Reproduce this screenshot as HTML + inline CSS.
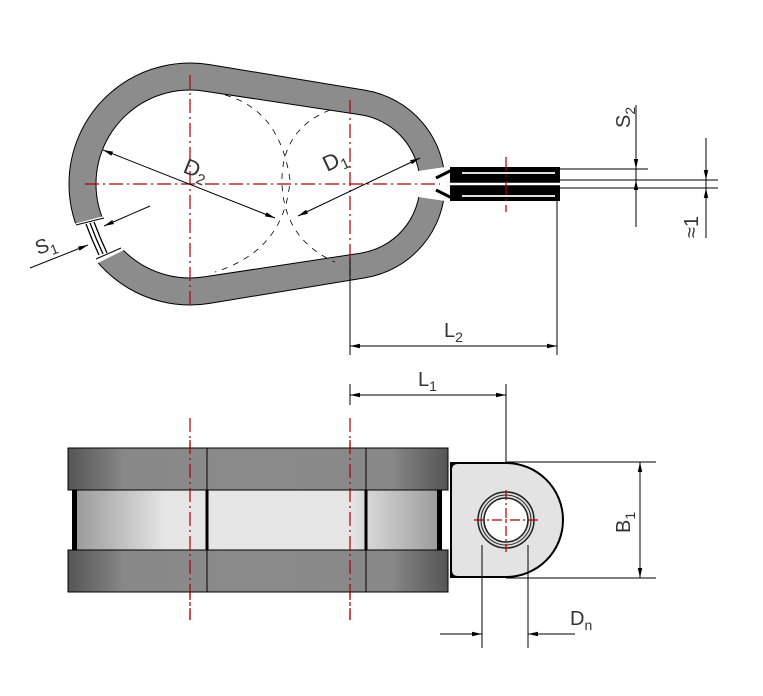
<!DOCTYPE html>
<html><head><meta charset="utf-8"><style>html,body{margin:0;padding:0;background:#fff}svg{display:block}</style></head>
<body>
<svg width="763" height="696" viewBox="0 0 763 696" xmlns="http://www.w3.org/2000/svg" font-family="Liberation Sans, DejaVu Sans, sans-serif">
<defs>
<marker id="a" viewBox="0 0 10 6" refX="10" refY="3" markerWidth="10" markerHeight="6" orient="auto-start-reverse" markerUnits="userSpaceOnUse"><path d="M0,0.8 L10,3 L0,5.2Z" fill="#000"/></marker>
<linearGradient id="band" x1="0" x2="1" y1="0" y2="0">
<stop offset="0" stop-color="#555"/><stop offset="0.15" stop-color="#888"/><stop offset="0.5" stop-color="#8a8a8a"/><stop offset="0.85" stop-color="#888"/><stop offset="1" stop-color="#555"/></linearGradient>
<linearGradient id="mid" x1="0" x2="1" y1="0" y2="0">
<stop offset="0" stop-color="#999"/><stop offset="0.25" stop-color="#e6e6e6"/><stop offset="0.75" stop-color="#e6e6e6"/><stop offset="1" stop-color="#999"/></linearGradient>
</defs>

<!-- top view ring -->
<path fill="#8c8c8c" stroke="#000" stroke-width="1" fill-rule="evenodd" d="M209.7 64.6 L365.4 90.3 A95 95 0 0 1 445 184 A95 95 0 0 1 365.4 277.7 L209.7 303.4 A121 121 0 0 1 69 184 A121 121 0 0 1 209.7 64.6 Z M204.1 91.1 L360.5 114.8 A70 70 0 0 1 420 184 A70 70 0 0 1 360.5 253.2 L204.1 276.9 A94 94 0 0 1 96 184 A94 94 0 0 1 204.1 91.1 Z"/>
<!-- right slot -->
<polygon points="418,171 452,166 452,202 418,197" fill="#fff"/>
<!-- left gap -->
<polygon points="66,226 104,216 124,250 92,266" fill="#fff"/>
<line x1="76" y1="225" x2="104" y2="218" stroke="#000"/>
<line x1="96" y1="259" x2="121" y2="248" stroke="#000"/>
<g stroke="#000" stroke-width="1.3" fill="none">
<path d="M86 224 Q92 240 99 255"/><path d="M90 223 Q96 239 103 254"/><path d="M94 222 Q100 238 107 253"/>
</g>
<!-- dashed inner arcs -->
<g stroke="#000" stroke-width="0.8" fill="none" stroke-dasharray="6,6">
<path d="M225 95 Q280 110 290 180 Q285 250 215 272"/>
<path d="M330 110 Q280 130 282 185 Q285 240 335 262"/>
</g>
<!-- tab top view -->
<rect x="450" y="167" width="110" height="34" fill="#000"/>
<line x1="462" y1="173" x2="555" y2="173" stroke="#ddd" stroke-width="2"/>
<line x1="462" y1="196" x2="555" y2="196" stroke="#ddd" stroke-width="2"/>
<line x1="450" y1="184" x2="560" y2="184" stroke="#fff" stroke-width="2.5"/>
<path d="M436 178 L452 170 M436 190 L452 198" stroke="#000" stroke-width="3"/>

<!-- center lines -->
<g stroke="#a00" stroke-width="1.2" stroke-dasharray="14,4,2,4" fill="none">
<line x1="190" y1="75" x2="190" y2="305"/>
<line x1="350" y1="100" x2="350" y2="275"/>
<line x1="85" y1="184" x2="440" y2="184"/>
<line x1="506" y1="157" x2="506" y2="212"/>
<line x1="190" y1="418" x2="190" y2="620"/>
<line x1="350" y1="418" x2="350" y2="620"/>
</g>

<!-- D lines -->
<g stroke="#000" stroke-width="1" fill="none">
<line x1="103" y1="150" x2="275" y2="218" marker-start="url(#a)" marker-end="url(#a)"/>
<line x1="420" y1="158" x2="298" y2="216" marker-start="url(#a)" marker-end="url(#a)"/>
<line x1="30" y1="268" x2="88" y2="245" marker-end="url(#a)"/>
<line x1="150" y1="206" x2="104" y2="226" marker-end="url(#a)"/>
</g>
<text x="0" y="0" font-size="22" fill="#333" transform="translate(182,172) rotate(22)">D<tspan font-size="15" dy="5">2</tspan></text>
<text x="0" y="0" font-size="22" fill="#333" transform="translate(327,172) rotate(-25)">D<tspan font-size="15" dy="5">1</tspan></text>
<text x="0" y="0" font-size="20" fill="#333" transform="translate(38,255) rotate(-20)">S<tspan font-size="14" dy="5">1</tspan></text>

<!-- S2 / ≈1 dims -->
<g stroke="#000" stroke-width="1" fill="none">
<line x1="560" y1="169" x2="648" y2="169"/>
<line x1="560" y1="180" x2="718" y2="180"/>
<line x1="560" y1="188" x2="718" y2="188"/>
<line x1="636" y1="105" x2="636" y2="227"/>
<line x1="636" y1="145" x2="636" y2="169" marker-end="url(#a)"/>
<line x1="636" y1="205" x2="636" y2="180" marker-end="url(#a)"/>
<line x1="706" y1="138" x2="706" y2="238"/>
<line x1="706" y1="158" x2="706" y2="180" marker-end="url(#a)"/>
<line x1="706" y1="212" x2="706" y2="188" marker-end="url(#a)"/>
</g>
<text font-size="20" fill="#333" transform="translate(630,128) rotate(-90)">S<tspan font-size="14" dy="5">2</tspan></text>
<text font-size="20" fill="#333" transform="translate(698,238) rotate(-90)">≈1</text>

<!-- L2 / L1 -->
<g stroke="#000" stroke-width="1" fill="none">
<line x1="350" y1="258" x2="350" y2="355"/>
<line x1="557" y1="200" x2="557" y2="355"/>
<line x1="350" y1="346" x2="557" y2="346" marker-start="url(#a)" marker-end="url(#a)"/>
<line x1="350" y1="384" x2="350" y2="405"/>
<line x1="506" y1="384" x2="506" y2="520"/>
<line x1="350" y1="395" x2="506" y2="395" marker-start="url(#a)" marker-end="url(#a)"/>
</g>
<text x="444" y="337" font-size="20" fill="#333">L<tspan font-size="14" dy="5">2</tspan></text>
<text x="418" y="386" font-size="20" fill="#333">L<tspan font-size="14" dy="5">1</tspan></text>

<!-- bottom view -->
<rect x="75" y="490" width="366" height="60" fill="url(#mid)" stroke="#000"/>
<rect x="72" y="490" width="5" height="60" fill="#000"/>
<rect x="437" y="490" width="5" height="60" fill="#000"/>
<line x1="207" y1="490" x2="207" y2="550" stroke="#000" stroke-width="3"/>
<line x1="366" y1="490" x2="366" y2="550" stroke="#000" stroke-width="3"/>
<rect x="68" y="448" width="380" height="42" fill="url(#band)" stroke="#000"/>
<rect x="68" y="550" width="380" height="42" fill="url(#band)" stroke="#000"/>
<g stroke="#000"><line x1="207" y1="448" x2="207" y2="490"/><line x1="366" y1="448" x2="366" y2="490"/><line x1="207" y1="550" x2="207" y2="592"/><line x1="366" y1="550" x2="366" y2="592"/></g>
<g stroke="#a00" stroke-width="1.2" stroke-dasharray="14,4,2,4"><line x1="190" y1="440" x2="190" y2="620"/><line x1="350" y1="440" x2="350" y2="620"/></g>
<!-- tab -->
<path d="M450 462 L506 462 A58 58 0 0 1 506 578 L450 578 Z" fill="#000"/>
<path d="M458 464 L506 464 A56 56 0 0 1 506 576 L458 576 Q452 576 452 570 L452 470 Q452 464 458 464Z" fill="#e3e3e3"/>
<circle cx="506" cy="520" r="28" fill="#ddd" stroke="#222" stroke-width="1.5"/>
<circle cx="506" cy="520" r="25" fill="none" stroke="#222"/>
<circle cx="506" cy="520" r="22" fill="#fff" stroke="#222" stroke-width="1.5"/>
<g stroke="#a00" stroke-width="1.2" stroke-dasharray="10,3,2,3"><line x1="474" y1="520" x2="538" y2="520"/><line x1="506" y1="490" x2="506" y2="552"/></g>
<!-- B1 -->
<g stroke="#000" stroke-width="1" fill="none">
<line x1="506" y1="462" x2="656" y2="462"/>
<line x1="506" y1="578" x2="656" y2="578"/>
<line x1="640" y1="462" x2="640" y2="578" marker-start="url(#a)" marker-end="url(#a)"/>
<line x1="482" y1="545" x2="482" y2="648"/>
<line x1="528" y1="545" x2="528" y2="648"/>
<line x1="440" y1="634" x2="482" y2="634" marker-end="url(#a)"/>
<line x1="575" y1="634" x2="528" y2="634" marker-end="url(#a)"/>
</g>
<text font-size="20" fill="#333" transform="translate(630,533) rotate(-90)">B<tspan font-size="14" dy="5">1</tspan></text>
<text x="570" y="625" font-size="20" fill="#333">D<tspan font-size="14" dy="5">n</tspan></text>
</svg>
</body></html>
